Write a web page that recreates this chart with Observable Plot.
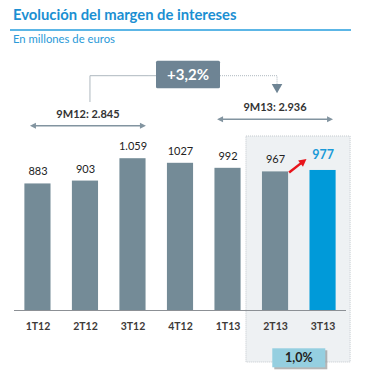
<!DOCTYPE html>
<html><head><meta charset="utf-8">
<script src="https://cdn.jsdelivr.net/npm/d3@7"></script>
<script src="https://cdn.jsdelivr.net/npm/@observablehq/plot@0.6"></script>
<style>
body{margin:0;background:#fff;font-family:Lato,sans-serif;}
#wrap{width:365px;height:382px;position:relative;overflow:hidden}
#hdr{position:relative;height:47px}
.title{position:absolute;left:13px;top:5px;font-weight:700;font-size:14.8px;color:#1b8fd2;line-height:18px;white-space:nowrap}
.rule{position:absolute;left:10px;top:29px;width:341px;height:1.5px;background:#5cb6e6}
.sub{position:absolute;left:13px;top:33px;font-size:11.3px;color:#2a9ad8;line-height:12px;white-space:nowrap}
#chart svg{display:block}
</style></head><body>
<div id="wrap">
  <div id="hdr">
    <div class="title">Evolución del margen de intereses</div>
    <div class="rule"></div>
    <div class="sub">En millones de euros</div>
  </div>
  <div id="chart"></div>
</div>
<script>
const categories = ["1T12","2T12","3T12","4T12","1T13","2T13","3T13"];
const values = [883, 903, 1059, 1027, 992, 967, 977];
const valueLabels = ["883","903","1.059","1027","992","967","977"];
const highlight = "3T13";
const period1Label = "9M12: 2.845";
const period2Label = "9M13: 2.936";
const growthYear = "+3,2%";
const growthQuarter = "1,0%";

const data = categories.map((c, i) => ({cat: c, value: values[i], label: valueLabels[i]}));

const plot = Plot.plot({
  width: 365, height: 335,
  marginTop: 91, marginBottom: 72, marginLeft: 3, marginRight: 8,
  style: {fontFamily: "Lato, sans-serif", background: "transparent", overflow: "visible"},
  x: {domain: categories, padding: 0.45, round: false, label: null},
  y: {domain: [0, 1200], axis: null},
  marks: [
    Plot.barY(data, {x: "cat", y: "value", fill: d => d.cat === highlight ? "#009ad9" : "#748b97"}),
    Plot.ruleY([0], {stroke: "#8c9095", strokeWidth: 1, insetLeft: 11, insetRight: 11}),
    Plot.text(data.filter(d => d.cat !== highlight), {x: "cat", y: "value", text: "label", dy: -12, fontSize: 11, fill: "#222"}),
    Plot.text(data.filter(d => d.cat === highlight), {x: "cat", y: "value", text: "label", dy: -15, fontSize: 12.5, fontWeight: "bold", fill: "#1a9ad8"}),
    Plot.axisX({tickSize: 0, tickPadding: 12, fontSize: 10.5, fontWeight: "bold", color: "#3d3a38", label: null})
  ]
});
document.getElementById("chart").appendChild(plot);

const xs = plot.scale("x"), ys = plot.scale("y");
const bw = xs.bandwidth;
const xStart = c => xs.apply(c);
const xCenter = c => xs.apply(c) + bw / 2;
const svg = d3.select(plot);

// shaded highlight region behind the last two bars
const bgX1 = xStart("2T13") - 16, bgX2 = xStart("3T13") + bw + 14.5;
svg.insert("rect", "g")
  .attr("x", bgX1).attr("y", 89).attr("width", bgX2 - bgX1).attr("height", 226)
  .attr("fill", "#eef1f3").attr("stroke", "#c3c9cd").attr("stroke-dasharray", "1,1").attr("stroke-width", 1);

const ann = svg.append("g");

function tri(g, tipX, tipY, dx, dy, len, half, fill) {
  const n = Math.hypot(dx, dy), ux = dx / n, uy = dy / n;
  const bx = tipX - ux * len, by = tipY - uy * len;
  g.append("path")
    .attr("d", `M${tipX},${tipY}L${bx - uy * half},${by + ux * half}L${bx + uy * half},${by - ux * half}Z`)
    .attr("fill", fill);
}
function dblArrow(xa, xb, y) {
  const col = "#8294a0";
  ann.append("line").attr("x1", xa + 4).attr("x2", xb - 4).attr("y1", y).attr("y2", y)
    .attr("stroke", col).attr("stroke-width", 1.5);
  tri(ann, xa, y, -1, 0, 6, 3, col);
  tri(ann, xb, y, 1, 0, 6, 3, col);
}

// period totals
const c1 = xCenter("2T12") + 3, c2 = xCenter("2T13");
ann.append("text").attr("x", c1).attr("y", 67).attr("dy", "0.35em").attr("text-anchor", "middle")
  .attr("font-size", 11).attr("font-weight", "bold").attr("fill", "#333").text(period1Label);
dblArrow(c1 - 58, c1 + 58, 78.7);
ann.append("text").attr("x", c2).attr("y", 60).attr("dy", "0.35em").attr("text-anchor", "middle")
  .attr("font-size", 11).attr("font-weight", "bold").attr("fill", "#333").text(period2Label);
dblArrow(c2 - 58, c2 + 58, 72.3);

// year-on-year connector
const boxCx = xCenter("4T12") + 8, boxW = 64, boxH = 27.5, boxY = 13.8, lineY = 28.7;
ann.append("path").attr("d", `M${c1 + 2},55V${lineY}H${boxCx - boxW / 2}`)
  .attr("fill", "none").attr("stroke", "#aeb8bf").attr("stroke-width", 1);
const rx = c2 + 2;
ann.append("path").attr("d", `M${boxCx + boxW / 2},${lineY}H${rx}V37`)
  .attr("fill", "none").attr("stroke", "#aeb8bf").attr("stroke-width", 1).attr("stroke-dasharray", "1,1");
ann.append("path").attr("d", `M${rx - 5.3},37L${rx + 5.3},37L${rx},46.3Z`).attr("fill", "#6e8494");
ann.append("rect").attr("x", boxCx - boxW / 2).attr("y", boxY).attr("width", boxW).attr("height", boxH)
  .attr("rx", 1.5).attr("fill", "#6e8494");
ann.append("text").attr("x", boxCx).attr("y", boxY + boxH / 2).attr("dy", "0.35em").attr("text-anchor", "middle")
  .attr("font-size", 15).attr("font-weight", "bold").attr("fill", "#fff").text(growthYear);

// red quarter arrow
const ax1 = xStart("2T13") + bw + 1, ay1 = ys.apply(967) + 1;
const ax2 = xStart("3T13") - 3, ay2 = ys.apply(977) - 11;
const dx = ax2 - ax1, dy = ay2 - ay1, n = Math.hypot(dx, dy);
ann.append("line").attr("x1", ax1).attr("y1", ay1)
  .attr("x2", ax2 - dx / n * 6).attr("y2", ay2 - dy / n * 6)
  .attr("stroke", "#e8141b").attr("stroke-width", 2.5);
tri(ann, ax2, ay2, dx, dy, 7.5, 4, "#e8141b");

// quarter growth box
const qCx = (xCenter("2T13") + xCenter("3T13")) / 2, qW = 53, qH = 19, qY = 301.3;
ann.append("rect").attr("x", qCx - qW / 2 + 2).attr("y", qY + 2).attr("width", qW).attr("height", qH)
  .attr("fill", "#7a7a7a").attr("opacity", 0.55);
ann.append("rect").attr("x", qCx - qW / 2).attr("y", qY).attr("width", qW).attr("height", qH)
  .attr("fill", "#95cfe0");
ann.append("text").attr("x", qCx).attr("y", qY + qH / 2).attr("dy", "0.35em").attr("text-anchor", "middle")
  .attr("font-size", 12.5).attr("font-weight", "bold").attr("fill", "#222").text(growthQuarter);
</script>
</body></html>
